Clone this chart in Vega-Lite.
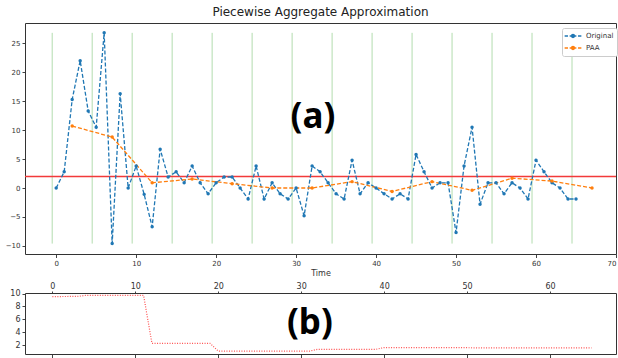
{
  "$schema": "https://vega.github.io/schema/vega-lite/v6.json",
  "padding": {"left": 5, "top": 6, "right": 0, "bottom": 0},
  "background": "white",
  "spacing": 39,
  "bounds": "flush",
  "resolve": {"legend": {"color": "independent"}},
  "config": {
    "view": {"stroke": null},
    "axis": {"domain": true, "domainColor": "#333", "domainWidth": 1, "grid": false, "tickColor": "#444", "labelColor": "#333", "labelFont": "DejaVu Sans", "titleFont": "DejaVu Sans", "titleColor": "#333", "titleFontWeight": "normal", "labelOverlap": false, "labelSeparation": 0, "labelBound": false}
  },
  "datasets": {
    "series": [
      {"t": 0, "value": 0, "series": "Original"},
      {"t": 1, "value": 2.8, "series": "Original"},
      {"t": 2, "value": 15.3, "series": "Original"},
      {"t": 3, "value": 22.0, "series": "Original"},
      {"t": 4, "value": 13.3, "series": "Original"},
      {"t": 5, "value": 10.5, "series": "Original"},
      {"t": 6, "value": 26.8, "series": "Original"},
      {"t": 7, "value": -9.6, "series": "Original"},
      {"t": 8, "value": 16.3, "series": "Original"},
      {"t": 9, "value": 0, "series": "Original"},
      {"t": 10, "value": 3.8, "series": "Original"},
      {"t": 11, "value": -1.1, "series": "Original"},
      {"t": 12, "value": -6.7, "series": "Original"},
      {"t": 13, "value": 6.7, "series": "Original"},
      {"t": 14, "value": 1.9, "series": "Original"},
      {"t": 15, "value": 2.8, "series": "Original"},
      {"t": 16, "value": 0.9, "series": "Original"},
      {"t": 17, "value": 3.8, "series": "Original"},
      {"t": 18, "value": 0.9, "series": "Original"},
      {"t": 19, "value": -1.0, "series": "Original"},
      {"t": 20, "value": 0.9, "series": "Original"},
      {"t": 21, "value": 1.9, "series": "Original"},
      {"t": 22, "value": 1.9, "series": "Original"},
      {"t": 23, "value": 0, "series": "Original"},
      {"t": 24, "value": -1.9, "series": "Original"},
      {"t": 25, "value": 3.8, "series": "Original"},
      {"t": 26, "value": -1.9, "series": "Original"},
      {"t": 27, "value": 0.9, "series": "Original"},
      {"t": 28, "value": -1.0, "series": "Original"},
      {"t": 29, "value": -1.9, "series": "Original"},
      {"t": 30, "value": 0, "series": "Original"},
      {"t": 31, "value": -4.8, "series": "Original"},
      {"t": 32, "value": 3.8, "series": "Original"},
      {"t": 33, "value": 2.8, "series": "Original"},
      {"t": 34, "value": 0.9, "series": "Original"},
      {"t": 35, "value": -1.0, "series": "Original"},
      {"t": 36, "value": -1.9, "series": "Original"},
      {"t": 37, "value": 4.8, "series": "Original"},
      {"t": 38, "value": -1.0, "series": "Original"},
      {"t": 39, "value": 0.9, "series": "Original"},
      {"t": 40, "value": 0, "series": "Original"},
      {"t": 41, "value": -1.0, "series": "Original"},
      {"t": 42, "value": -1.9, "series": "Original"},
      {"t": 43, "value": -1.0, "series": "Original"},
      {"t": 44, "value": -1.9, "series": "Original"},
      {"t": 45, "value": 5.8, "series": "Original"},
      {"t": 46, "value": 2.8, "series": "Original"},
      {"t": 47, "value": 0, "series": "Original"},
      {"t": 48, "value": 0.9, "series": "Original"},
      {"t": 49, "value": 0.9, "series": "Original"},
      {"t": 50, "value": -7.7, "series": "Original"},
      {"t": 51, "value": 3.8, "series": "Original"},
      {"t": 52, "value": 10.5, "series": "Original"},
      {"t": 53, "value": -2.8, "series": "Original"},
      {"t": 54, "value": 0.9, "series": "Original"},
      {"t": 55, "value": 0.9, "series": "Original"},
      {"t": 56, "value": -1.0, "series": "Original"},
      {"t": 57, "value": 0.9, "series": "Original"},
      {"t": 58, "value": 0, "series": "Original"},
      {"t": 59, "value": -1.9, "series": "Original"},
      {"t": 60, "value": 4.8, "series": "Original"},
      {"t": 61, "value": 2.8, "series": "Original"},
      {"t": 62, "value": 0.9, "series": "Original"},
      {"t": 63, "value": 0, "series": "Original"},
      {"t": 64, "value": -1.9, "series": "Original"},
      {"t": 65, "value": -1.9, "series": "Original"},
      {"t": 2, "value": 10.7, "series": "PAA"},
      {"t": 7, "value": 8.8, "series": "PAA"},
      {"t": 12, "value": 0.9, "series": "PAA"},
      {"t": 17, "value": 1.55, "series": "PAA"},
      {"t": 22, "value": 0.75, "series": "PAA"},
      {"t": 27, "value": 0, "series": "PAA"},
      {"t": 32, "value": 0, "series": "PAA"},
      {"t": 37, "value": 1.1, "series": "PAA"},
      {"t": 42, "value": -0.6, "series": "PAA"},
      {"t": 47, "value": 1.1, "series": "PAA"},
      {"t": 52, "value": -0.4, "series": "PAA"},
      {"t": 57, "value": 1.7, "series": "PAA"},
      {"t": 62, "value": 1.2, "series": "PAA"},
      {"t": 67, "value": 0, "series": "PAA"}
    ],
    "segments": [
      {"t": -0.5}, {"t": 4.5}, {"t": 9.5}, {"t": 14.5}, {"t": 19.5}, {"t": 24.5}, {"t": 29.5},
      {"t": 34.5}, {"t": 39.5}, {"t": 44.5}, {"t": 49.5}, {"t": 54.5}, {"t": 59.5}, {"t": 64.5}
    ],
    "dist": [
      {"t": 0, "d": 9.55}, {"t": 1, "d": 9.55}, {"t": 2, "d": 9.56}, {"t": 3, "d": 9.57},
      {"t": 4, "d": 9.72}, {"t": 5, "d": 9.72}, {"t": 6, "d": 9.72}, {"t": 7, "d": 9.72},
      {"t": 8, "d": 9.72}, {"t": 9, "d": 9.72}, {"t": 10, "d": 9.72}, {"t": 11, "d": 9.72},
      {"t": 12, "d": 2.27}, {"t": 13, "d": 2.27}, {"t": 14, "d": 2.27}, {"t": 15, "d": 2.27},
      {"t": 16, "d": 2.27}, {"t": 17, "d": 2.27}, {"t": 18, "d": 2.27}, {"t": 19, "d": 2.27},
      {"t": 20, "d": 1.05}, {"t": 21, "d": 1.05}, {"t": 22, "d": 1.05}, {"t": 23, "d": 1.05},
      {"t": 24, "d": 1.05}, {"t": 25, "d": 1.05}, {"t": 26, "d": 1.05}, {"t": 27, "d": 1.05},
      {"t": 28, "d": 1.05}, {"t": 29, "d": 1.05}, {"t": 30, "d": 1.05}, {"t": 31, "d": 1.05},
      {"t": 32, "d": 1.33}, {"t": 33, "d": 1.33}, {"t": 34, "d": 1.33}, {"t": 35, "d": 1.33},
      {"t": 36, "d": 1.33}, {"t": 37, "d": 1.33}, {"t": 38, "d": 1.33}, {"t": 39, "d": 1.33},
      {"t": 40, "d": 1.6}, {"t": 41, "d": 1.6}, {"t": 42, "d": 1.6}, {"t": 43, "d": 1.6},
      {"t": 44, "d": 1.6}, {"t": 45, "d": 1.6}, {"t": 46, "d": 1.6}, {"t": 47, "d": 1.6},
      {"t": 48, "d": 1.6}, {"t": 49, "d": 1.6}, {"t": 50, "d": 1.58}, {"t": 51, "d": 1.56},
      {"t": 52, "d": 1.55}, {"t": 53, "d": 1.55}, {"t": 54, "d": 1.55}, {"t": 55, "d": 1.55},
      {"t": 56, "d": 1.55}, {"t": 57, "d": 1.55}, {"t": 58, "d": 1.55}, {"t": 59, "d": 1.55},
      {"t": 60, "d": 1.55}, {"t": 61, "d": 1.55}, {"t": 62, "d": 1.55}, {"t": 63, "d": 1.55},
      {"t": 64, "d": 1.55}, {"t": 65, "d": 1.55}
    ]
  },
  "vconcat": [
    {
      "width": 591,
      "height": 231,
      "title": {"text": "Piecewise Aggregate Approximation", "fontSize": 12, "font": "DejaVu Sans", "fontWeight": "normal", "color": "#222", "offset": 4},
      "resolve": {"scale": {"x": "shared", "y": "shared"}, "axis": {"x": "independent", "y": "independent"}},
      "layer": [
        {
          "data": {"name": "segments"},
          "mark": {"type": "rule", "color": "#b2dcae", "strokeWidth": 1},
          "encoding": {
            "x": {"field": "t", "type": "quantitative", "scale": {"domain": [-3.9, 70.0], "nice": false, "zero": false}, "axis": null},
            "y": {"datum": -9.6, "type": "quantitative", "scale": {"domain": [-11.4, 28.5], "nice": false, "zero": false}, "axis": null},
            "y2": {"datum": 26.8}
          }
        },
        {
          "data": {"values": [{"level": 2}]},
          "mark": {"type": "rule", "color": "#f23a3a", "strokeWidth": 1.5},
          "encoding": {
            "y": {"field": "level", "type": "quantitative", "axis": null}
          }
        },
        {
          "data": {"name": "series"},
          "mark": {"type": "line", "strokeDash": [4, 2], "strokeWidth": 1.3, "point": {"filled": true, "size": 12}},
          "encoding": {
            "x": {"field": "t", "type": "quantitative",
                  "axis": {"orient": "bottom", "values": [0, 10, 20, 30, 40, 50, 60, 70], "labelFontSize": 7, "tickSize": 3.5, "labelPadding": 2, "labelFlush": 5, "title": "Time", "titleFontSize": 8, "titlePadding": 3, "labelOverlap": false, "labelSeparation": 0}},
            "y": {"field": "value", "type": "quantitative",
                  "axis": {"orient": "left", "values": [-10, -5, 0, 5, 10, 15, 20, 25], "labelFontSize": 7, "tickSize": 3, "labelPadding": 2, "labelAlign": "right", "title": null, "labelOverlap": false, "labelSeparation": 0}},
            "color": {"field": "series", "type": "nominal",
                      "scale": {"domain": ["Original", "PAA"], "range": ["#1f77b4", "#ff7f0e"]},
                      "legend": {"orient": "none", "legendX": 537, "legendY": 5, "title": null, "labelFontSize": 7, "labelFont": "DejaVu Sans", "labelColor": "#333",
                                 "symbolType": "M-2,0H-1.2M-0.8,0H0.8M1.2,0H2M0.35,0A0.35,0.35,0,1,1,-0.35,0A0.35,0.35,0,1,1,0.35,0",
                                 "symbolSize": 70, "symbolStrokeWidth": 1.4, "symbolOffset": 3, "strokeColor": "#ccc", "fillColor": "white", "padding": 3, "cornerRadius": 2, "rowPadding": 2, "labelOffset": 8}}
          }
        },
        {
          "data": {"values": [{"label": "(a)"}]},
          "mark": {"type": "text", "font": "Noto Sans", "fontWeight": "bold", "fontSize": 35, "color": "black", "baseline": "middle", "align": "center"},
          "encoding": {
            "x": {"datum": 32.1, "type": "quantitative", "axis": {"orient": "top", "labels": false, "ticks": false, "title": null, "domain": true}},
            "y": {"datum": 12.2, "type": "quantitative", "axis": {"orient": "right", "labels": false, "ticks": false, "title": null, "domain": true}},
            "text": {"field": "label"}
          }
        }
      ]
    },
    {
      "width": 591,
      "height": 61,
      "resolve": {"scale": {"x": "shared", "y": "shared"}, "axis": {"x": "independent", "y": "independent"}},
      "layer": [
        {
          "data": {"name": "dist"},
          "mark": {"type": "line", "color": "#ff3030", "strokeDash": [1, 1.5], "strokeWidth": 1.2, "opacity": 0.85},
          "encoding": {
            "x": {"field": "t", "type": "quantitative", "scale": {"domain": [-3.3, 67.95], "nice": false, "zero": false},
                  "axis": {"orient": "top", "values": [0, 10, 20, 30, 40, 50, 60], "labelFontSize": 8, "tickSize": 2, "labelPadding": 1, "title": null, "labelOverlap": false, "labelSeparation": 0}},
            "y": {"field": "d", "type": "quantitative", "scale": {"domain": [0.6, 10.1], "nice": false, "zero": false},
                  "axis": {"orient": "left", "values": [2, 4, 6, 8, 10], "labelFontSize": 8, "tickSize": 3, "labelPadding": 2, "labelAlign": "right", "title": null, "labelOverlap": false, "labelSeparation": 0}}
          }
        },
        {
          "data": {"values": [{"label": "(b)"}]},
          "mark": {"type": "text", "font": "Noto Sans", "fontWeight": "bold", "fontSize": 35, "color": "black", "baseline": "middle", "align": "center"},
          "encoding": {
            "x": {"datum": 31.05, "type": "quantitative",
                  "axis": {"orient": "bottom", "values": [0, 10, 20, 30, 40, 50, 60], "labels": false, "tickSize": 4, "title": null, "domain": true}},
            "y": {"datum": 5.48, "type": "quantitative", "axis": {"orient": "right", "labels": false, "ticks": false, "title": null, "domain": true}},
            "text": {"field": "label"}
          }
        }
      ]
    }
  ]
}
